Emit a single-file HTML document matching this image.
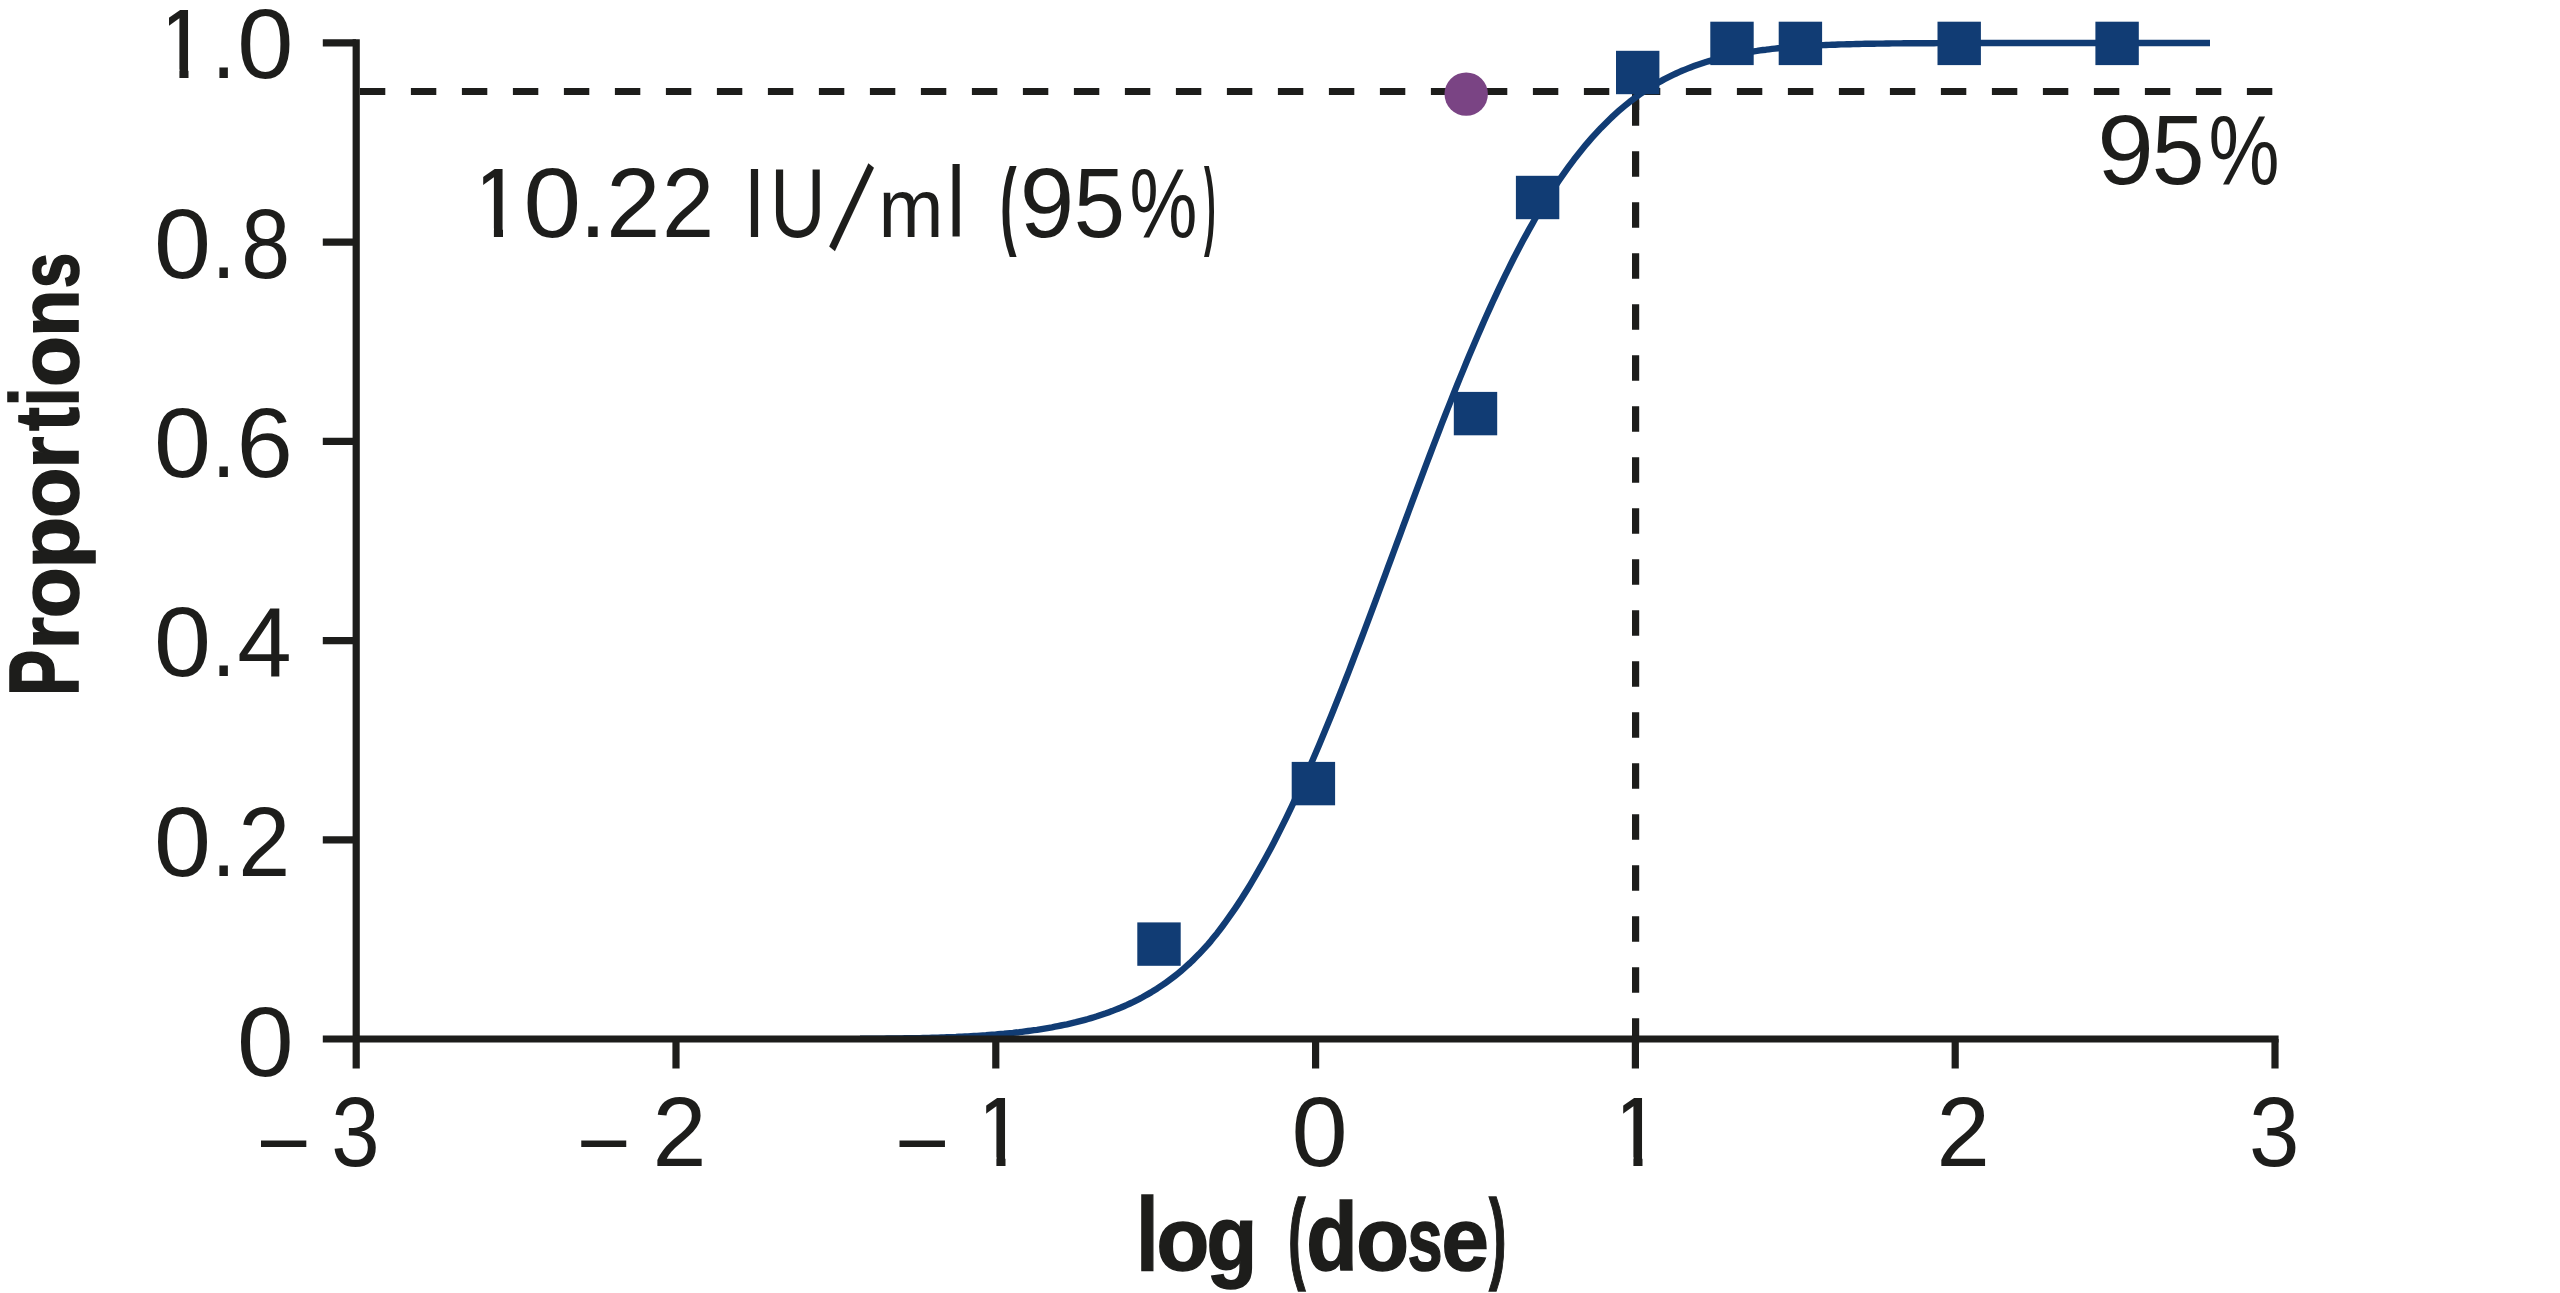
<!DOCTYPE html>
<html lang="en"><head><meta charset="utf-8"><title>Probit analysis</title>
<style>
html,body{margin:0;padding:0;background:#fff;}
body{width:2560px;height:1293px;overflow:hidden;}
svg{display:block;}
text{font-family:"Liberation Sans",sans-serif;fill:#1d1d1b;white-space:pre;}
</style></head>
<body>
<svg width="2560" height="1293" viewBox="0 0 2560 1293">
<defs>
<clipPath id="c10"><rect x="179.4" y="0.0" width="9.1" height="1293.0"/><rect x="169.0" y="0.0" width="19.5" height="69.4"/><rect x="205.0" y="0.0" width="125.0" height="1293.0"/></clipPath>
<clipPath id="cm1"><rect x="996.4" y="0.0" width="9.1" height="1293.0"/><rect x="986.2" y="0.0" width="19.2" height="1157.2"/><rect x="880.0" y="0.0" width="80.0" height="1293.0"/></clipPath>
<clipPath id="cx1"><rect x="1633.4" y="0.0" width="9.1" height="1293.0"/><rect x="1623.2" y="0.0" width="19.2" height="1157.2"/></clipPath>
<clipPath id="ca"><rect x="493.9" y="0.0" width="9.1" height="1293.0"/><rect x="483.2" y="0.0" width="19.8" height="228.4"/><rect x="521.0" y="0.0" width="779.0" height="1293.0"/></clipPath>
</defs>
<rect width="2560" height="1293" fill="#fff"/>
<g stroke="#1d1d1b" stroke-width="7" fill="none" stroke-linecap="butt">
<line x1="359.9" y1="91.4" x2="2273" y2="91.4" stroke-dasharray="25.4 25.6"/>
<line x1="1635.6" y1="1043.65" x2="1635.6" y2="94" stroke-dasharray="25.4 25.6" stroke-width="7.2"/>
<line x1="1635.6" y1="94" x2="1635.6" y2="110" stroke-width="7.2"/>
</g>
<path d="M860.0,1038.7 L863.0,1038.7 L866.0,1038.7 L869.0,1038.7 L872.0,1038.6 L875.0,1038.6 L878.0,1038.6 L881.0,1038.6 L884.0,1038.6 L887.0,1038.5 L890.0,1038.5 L893.0,1038.5 L896.0,1038.4 L899.0,1038.4 L902.0,1038.4 L905.0,1038.3 L908.0,1038.3 L911.0,1038.2 L914.0,1038.2 L917.0,1038.1 L920.0,1038.1 L923.0,1038.0 L926.0,1037.9 L929.0,1037.9 L932.0,1037.8 L935.0,1037.7 L938.0,1037.6 L941.0,1037.5 L944.0,1037.4 L947.0,1037.3 L950.0,1037.2 L953.0,1037.1 L956.0,1037.0 L959.0,1036.8 L962.0,1036.7 L965.0,1036.5 L968.0,1036.4 L971.0,1036.2 L974.0,1036.0 L977.0,1035.9 L980.0,1035.7 L983.0,1035.5 L986.0,1035.3 L989.0,1035.0 L992.0,1034.8 L995.0,1034.6 L998.0,1034.3 L1001.0,1034.0 L1004.0,1033.8 L1007.0,1033.5 L1010.0,1033.2 L1013.0,1032.9 L1016.0,1032.5 L1019.0,1032.2 L1022.0,1031.8 L1025.0,1031.4 L1028.0,1031.0 L1031.0,1030.6 L1034.0,1030.2 L1037.0,1029.8 L1040.0,1029.3 L1043.0,1028.8 L1046.0,1028.3 L1049.0,1027.8 L1052.0,1027.3 L1055.0,1026.7 L1058.0,1026.1 L1061.0,1025.5 L1064.0,1024.9 L1067.0,1024.3 L1070.0,1023.6 L1073.0,1022.9 L1076.0,1022.2 L1079.0,1021.4 L1082.0,1020.6 L1085.0,1019.8 L1088.0,1019.0 L1091.0,1018.1 L1094.0,1017.2 L1097.0,1016.3 L1100.0,1015.3 L1103.0,1014.3 L1106.0,1013.3 L1109.0,1012.2 L1112.0,1011.1 L1115.0,1009.9 L1118.0,1008.7 L1121.0,1007.5 L1124.0,1006.2 L1127.0,1004.9 L1130.0,1003.5 L1133.0,1002.1 L1136.0,1000.6 L1139.0,999.1 L1142.0,997.5 L1145.0,995.8 L1148.0,994.1 L1151.0,992.4 L1154.0,990.5 L1157.0,988.7 L1160.0,986.7 L1163.0,984.7 L1166.0,982.6 L1169.0,980.4 L1172.0,978.2 L1175.0,975.9 L1178.0,973.5 L1181.0,971.0 L1184.0,968.4 L1187.0,965.7 L1190.0,963.0 L1193.0,960.1 L1196.0,957.1 L1199.0,954.1 L1202.0,950.9 L1205.0,947.6 L1208.0,944.3 L1211.0,940.8 L1214.0,937.1 L1217.0,933.4 L1220.0,929.5 L1223.0,925.5 L1226.0,921.4 L1229.0,917.2 L1232.0,912.9 L1235.0,908.6 L1238.0,904.1 L1241.0,899.5 L1244.0,894.8 L1247.0,890.0 L1250.0,885.1 L1253.0,880.0 L1256.0,874.9 L1259.0,869.7 L1262.0,864.4 L1265.0,859.0 L1268.0,853.5 L1271.0,847.9 L1274.0,842.2 L1277.0,836.3 L1280.0,830.4 L1283.0,824.4 L1286.0,818.3 L1289.0,812.1 L1292.0,805.8 L1295.0,799.4 L1298.0,792.9 L1301.0,786.4 L1304.0,779.7 L1307.0,773.0 L1310.0,766.2 L1313.0,759.3 L1316.0,752.3 L1319.0,745.2 L1322.0,738.1 L1325.0,730.8 L1328.0,723.6 L1331.0,716.2 L1334.0,708.8 L1337.0,701.3 L1340.0,693.8 L1343.0,686.2 L1346.0,678.5 L1349.0,670.8 L1352.0,663.0 L1355.0,655.2 L1358.0,647.4 L1361.0,639.5 L1364.0,631.6 L1367.0,623.6 L1370.0,615.6 L1373.0,607.6 L1376.0,599.6 L1379.0,591.5 L1382.0,583.4 L1385.0,575.3 L1388.0,567.2 L1391.0,559.1 L1394.0,551.0 L1397.0,542.9 L1400.0,534.8 L1403.0,526.7 L1406.0,518.6 L1409.0,510.5 L1412.0,502.4 L1415.0,494.3 L1418.0,486.3 L1421.0,478.3 L1424.0,470.3 L1427.0,462.4 L1430.0,454.5 L1433.0,446.6 L1436.0,438.8 L1439.0,431.0 L1442.0,423.2 L1445.0,415.5 L1448.0,407.9 L1451.0,400.3 L1454.0,392.8 L1457.0,385.3 L1460.0,377.9 L1463.0,370.6 L1466.0,363.3 L1469.0,356.1 L1472.0,349.0 L1475.0,341.9 L1478.0,335.0 L1481.0,328.1 L1484.0,321.3 L1487.0,314.5 L1490.0,307.9 L1493.0,301.3 L1496.0,294.8 L1499.0,288.4 L1502.0,282.1 L1505.0,275.9 L1508.0,269.8 L1511.0,263.8 L1514.0,257.8 L1517.0,252.0 L1520.0,246.3 L1523.0,240.6 L1526.0,235.1 L1529.0,229.6 L1532.0,224.3 L1535.0,219.0 L1538.0,213.9 L1541.0,208.8 L1544.0,203.8 L1547.0,199.0 L1550.0,194.2 L1553.0,189.6 L1556.0,185.0 L1559.0,180.5 L1562.0,176.2 L1565.0,171.9 L1568.0,167.7 L1571.0,163.6 L1574.0,159.6 L1577.0,155.8 L1580.0,152.0 L1583.0,148.3 L1586.0,144.6 L1589.0,141.1 L1592.0,137.7 L1595.0,134.4 L1598.0,131.1 L1601.0,127.9 L1604.0,124.9 L1607.0,121.9 L1610.0,119.0 L1613.0,116.1 L1616.0,113.4 L1619.0,110.7 L1622.0,108.1 L1625.0,105.6 L1628.0,103.2 L1631.0,100.8 L1634.0,98.6 L1637.0,96.3 L1640.0,94.2 L1643.0,92.1 L1646.0,90.1 L1649.0,88.2 L1652.0,86.3 L1655.0,84.5 L1658.0,82.8 L1661.0,81.1 L1664.0,79.4 L1667.0,77.9 L1670.0,76.4 L1673.0,74.9 L1676.0,73.5 L1679.0,72.1 L1682.0,70.8 L1685.0,69.6 L1688.0,68.4 L1691.0,67.2 L1694.0,66.1 L1697.0,65.0 L1700.0,64.0 L1703.0,63.0 L1706.0,62.0 L1709.0,61.1 L1712.0,60.2 L1715.0,59.4 L1718.0,58.6 L1721.0,57.8 L1724.0,57.1 L1727.0,56.4 L1730.0,55.7 L1733.0,55.1 L1736.0,54.5 L1739.0,53.9 L1742.0,53.3 L1745.0,52.8 L1748.0,52.3 L1751.0,51.8 L1754.0,51.3 L1757.0,50.9 L1760.0,50.4 L1763.0,50.0 L1766.0,49.7 L1769.0,49.3 L1772.0,48.9 L1775.0,48.6 L1778.0,48.3 L1781.0,48.0 L1784.0,47.7 L1787.0,47.4 L1790.0,47.2 L1793.0,47.0 L1796.0,46.7 L1799.0,46.5 L1802.0,46.3 L1805.0,46.1 L1808.0,45.9 L1811.0,45.7 L1814.0,45.6 L1817.0,45.4 L1820.0,45.3 L1823.0,45.1 L1826.0,45.0 L1829.0,44.9 L1832.0,44.8 L1835.0,44.7 L1838.0,44.5 L1841.0,44.4 L1844.0,44.4 L1847.0,44.3 L1850.0,44.2 L1853.0,44.1 L1856.0,44.0 L1859.0,44.0 L1862.0,43.9 L1865.0,43.8 L1868.0,43.8 L1871.0,43.7 L1874.0,43.7 L1877.0,43.6 L1880.0,43.6 L1883.0,43.6 L1886.0,43.5 L1889.0,43.5 L1892.0,43.4 L1895.0,43.4 L1898.0,43.4 L1901.0,43.4 L1904.0,43.3 L1907.0,43.3 L1910.0,43.3 L1913.0,43.3 L1916.0,43.2 L1919.0,43.2 L1922.0,43.2 L1925.0,43.2 L1928.0,43.2 L1931.0,43.2 L1934.0,43.2 L1937.0,43.1 L1940.0,43.1 L1943.0,43.1 L1946.0,43.1 L1949.0,43.1 L1952.0,43.1 L1955.0,43.1 L1958.0,43.1 L1961.0,43.1 L1964.0,43.1 L1967.0,43.1 L1970.0,43.1 L1973.0,43.1 L1976.0,43.0 L1979.0,43.0 L1982.0,43.0 L1985.0,43.0 L1988.0,43.0 L1991.0,43.0 L1994.0,43.0 L1997.0,43.0 L2000.0,43.0 L2003.0,43.0 L2006.0,43.0 L2009.0,43.0 L2012.0,43.0 L2015.0,43.0 L2018.0,43.0 L2021.0,43.0 L2024.0,43.0 L2027.0,43.0 L2030.0,43.0 L2033.0,43.0 L2036.0,43.0 L2039.0,43.0 L2042.0,43.0 L2045.0,43.0 L2048.0,43.0 L2051.0,43.0 L2054.0,43.0 L2057.0,43.0 L2060.0,43.0 L2063.0,43.0 L2066.0,43.0 L2069.0,43.0 L2072.0,43.0 L2075.0,43.0 L2078.0,43.0 L2081.0,43.0 L2084.0,43.0 L2087.0,43.0 L2090.0,43.0 L2093.0,43.0 L2096.0,43.0 L2099.0,43.0 L2102.0,43.0 L2105.0,43.0 L2108.0,43.0 L2111.0,43.0 L2114.0,43.0 L2117.0,43.0 L2120.0,43.0 L2123.0,43.0 L2126.0,43.0 L2129.0,43.0 L2132.0,43.0 L2135.0,43.0 L2138.0,43.0 L2141.0,43.0 L2144.0,43.0 L2147.0,43.0 L2150.0,43.0 L2153.0,43.0 L2156.0,43.0 L2159.0,43.0 L2162.0,43.0 L2165.0,43.0 L2168.0,43.0 L2171.0,43.0 L2174.0,43.0 L2177.0,43.0 L2180.0,43.0 L2183.0,43.0 L2186.0,43.0 L2189.0,43.0 L2192.0,43.0 L2195.0,43.0 L2198.0,43.0 L2201.0,43.0 L2204.0,43.0 L2207.0,43.0 L2210.0,43.0 L2210.0,43.0" fill="none" stroke="#113c74" stroke-width="6.4" stroke-linejoin="round"/>
<g stroke="#1d1d1b" stroke-width="7.2" fill="none" stroke-linecap="butt">
<line x1="356.2" y1="39.3" x2="356.2" y2="1068.5"/>
<line x1="322.8" y1="1039" x2="2278.6" y2="1039"/>
<line x1="322.8" y1="42.9" x2="356" y2="42.9"/><line x1="322.8" y1="242.1" x2="356" y2="242.1"/><line x1="322.8" y1="441.3" x2="356" y2="441.3"/><line x1="322.8" y1="640.6" x2="356" y2="640.6"/><line x1="322.8" y1="839.8" x2="356" y2="839.8"/>
<line x1="676.0" y1="1039" x2="676.0" y2="1068.5"/><line x1="995.8" y1="1039" x2="995.8" y2="1068.5"/><line x1="1315.6" y1="1039" x2="1315.6" y2="1068.5"/><line x1="1635.4" y1="1039" x2="1635.4" y2="1068.5"/><line x1="1955.2" y1="1039" x2="1955.2" y2="1068.5"/><line x1="2275.0" y1="1039" x2="2275.0" y2="1068.5"/>
</g>
<g fill="#113c74"><rect x="1137.3" y="922.4" width="43.4" height="43.4"/><rect x="1291.7" y="761.9" width="43.4" height="43.4"/><rect x="1453.8" y="391.9" width="43.4" height="43.4"/><rect x="1515.9" y="175.8" width="43.4" height="43.4"/><rect x="1616.0" y="50.8" width="43.4" height="43.4"/><rect x="1710.3" y="21.7" width="43.4" height="43.4"/><rect x="1778.7" y="21.7" width="43.4" height="43.4"/><rect x="1937.5" y="21.7" width="43.4" height="43.4"/><rect x="2095.4" y="21.7" width="43.4" height="43.4"/></g>
<circle cx="1466.2" cy="94.1" r="21.7" fill="#7a4484"/>
<g font-size="98">
<text y="78.25" clip-path="url(#c10)"><tspan x="154.70" font-size="98">1</tspan><tspan x="211.35" font-size="98" textLength="24.80" lengthAdjust="spacingAndGlyphs">.</tspan><tspan x="237.31" font-size="98" textLength="56.14" lengthAdjust="spacingAndGlyphs">0</tspan></text>
<text y="278.20"><tspan x="154.00" font-size="98" textLength="57.01" lengthAdjust="spacingAndGlyphs">0</tspan><tspan x="211.35" font-size="98" textLength="24.80" lengthAdjust="spacingAndGlyphs">.</tspan><tspan x="241.18" font-size="98" textLength="48.89" lengthAdjust="spacingAndGlyphs">8</tspan></text>
<text y="477.20"><tspan x="154.00" font-size="98" textLength="57.01" lengthAdjust="spacingAndGlyphs">0</tspan><tspan x="211.35" font-size="98" textLength="24.80" lengthAdjust="spacingAndGlyphs">.</tspan><tspan x="236.45" font-size="98" textLength="56.41" lengthAdjust="spacingAndGlyphs">6</tspan></text>
<text y="675.90"><tspan x="154.00" font-size="98" textLength="57.01" lengthAdjust="spacingAndGlyphs">0</tspan><tspan x="211.35" font-size="98" textLength="24.80" lengthAdjust="spacingAndGlyphs">.</tspan><tspan x="237.15" font-size="98" textLength="54.41" lengthAdjust="spacingAndGlyphs">4</tspan></text>
<text y="876.40"><tspan x="154.00" font-size="98" textLength="57.01" lengthAdjust="spacingAndGlyphs">0</tspan><tspan x="211.35" font-size="98" textLength="24.80" lengthAdjust="spacingAndGlyphs">.</tspan><tspan x="238.30" font-size="98" textLength="52.01" lengthAdjust="spacingAndGlyphs">2</tspan></text>
<text y="1075.50"><tspan x="237.02" font-size="98" textLength="56.66" lengthAdjust="spacingAndGlyphs">0</tspan></text>
<text y="1166.00"><tspan x="260.90" y="1168.6" font-size="98" textLength="45.34" lengthAdjust="spacingAndGlyphs">–</tspan> <tspan x="331.29" y="1166" font-size="98" textLength="48.33" lengthAdjust="spacingAndGlyphs">3</tspan></text>
<text y="1166.00"><tspan x="581.25" y="1168.6" font-size="98" textLength="45.04" lengthAdjust="spacingAndGlyphs">–</tspan> <tspan x="652.61" y="1166" font-size="98" textLength="54.02" lengthAdjust="spacingAndGlyphs">2</tspan></text>
<text y="1166.00" clip-path="url(#cm1)"><tspan x="899.50" y="1168.6" font-size="98" textLength="45.54" lengthAdjust="spacingAndGlyphs">–</tspan> <tspan y="1166" x="971.70" font-size="98">1</tspan></text>
<text y="1166.00"><tspan x="1291.56" font-size="98" textLength="56.14" lengthAdjust="spacingAndGlyphs">0</tspan></text>
<text y="1166.00" clip-path="url(#cx1)"><tspan x="1608.70" font-size="98">1</tspan></text>
<text y="1166.00"><tspan x="1936.42" font-size="98" textLength="53.41" lengthAdjust="spacingAndGlyphs">2</tspan></text>
<text y="1166.00"><tspan x="2249.05" font-size="98" textLength="50.44" lengthAdjust="spacingAndGlyphs">3</tspan></text>
<text y="237.20" clip-path="url(#ca)"><tspan x="469.20" font-size="98">1</tspan><tspan x="523.46" font-size="98" textLength="57.59" lengthAdjust="spacingAndGlyphs">0</tspan><tspan x="579.39" font-size="98" textLength="27.43" lengthAdjust="spacingAndGlyphs">.</tspan><tspan x="606.35" font-size="98" textLength="54.14" lengthAdjust="spacingAndGlyphs">2</tspan><tspan x="661.88" font-size="98" textLength="52.25" lengthAdjust="spacingAndGlyphs">2</tspan> <tspan x="743.78" font-size="98" textLength="21.45" lengthAdjust="spacingAndGlyphs">I</tspan><tspan x="769.95" font-size="98" textLength="55.70" lengthAdjust="spacingAndGlyphs">U</tspan><tspan x="829.6" y="245.3" font-size="143" rotate="24.7" textLength="22.25" lengthAdjust="spacingAndGlyphs">/</tspan><tspan x="878.57" y="237.2" font-size="84" textLength="64.97" lengthAdjust="spacingAndGlyphs">m</tspan><tspan x="946.98" font-size="101" textLength="18.20" lengthAdjust="spacingAndGlyphs">l</tspan> <tspan font-weight="bold" x="1000.01" font-size="98" textLength="16.64" lengthAdjust="spacingAndGlyphs">(</tspan><tspan x="1019.80" font-size="98" textLength="54.54" lengthAdjust="spacingAndGlyphs">9</tspan><tspan x="1073.81" font-size="98" textLength="51.32" lengthAdjust="spacingAndGlyphs">5</tspan><tspan x="1129.48" font-size="98" textLength="67.95" lengthAdjust="spacingAndGlyphs">%</tspan><tspan font-weight="bold" x="1203.97" font-size="98" textLength="11.80" lengthAdjust="spacingAndGlyphs">)</tspan></text>
<text y="184.00"><tspan x="2097.23" font-size="98" textLength="56.59" lengthAdjust="spacingAndGlyphs">9</tspan><tspan x="2151.80" font-size="98" textLength="52.79" lengthAdjust="spacingAndGlyphs">5</tspan><tspan x="2208.40" font-size="98" textLength="71.05" lengthAdjust="spacingAndGlyphs">%</tspan></text>
<text y="1269.60" font-weight="bold" stroke="#1d1d1b" stroke-width="1.6"><tspan x="1136.20" font-size="103" textLength="22.27" lengthAdjust="spacingAndGlyphs">l</tspan><tspan x="1156.43" font-size="89" textLength="52.75" lengthAdjust="spacingAndGlyphs">o</tspan><tspan x="1206.50" font-size="91" textLength="50.65" lengthAdjust="spacingAndGlyphs">g</tspan> <tspan x="1287.99" font-size="100" textLength="17.46" lengthAdjust="spacingAndGlyphs">(</tspan><tspan x="1306.35" font-size="97" textLength="51.40" lengthAdjust="spacingAndGlyphs">d</tspan><tspan x="1356.13" font-size="89" textLength="52.75" lengthAdjust="spacingAndGlyphs">o</tspan><tspan x="1407.38" font-size="89" textLength="35.11" lengthAdjust="spacingAndGlyphs">s</tspan><tspan x="1441.48" font-size="89" textLength="47.33" lengthAdjust="spacingAndGlyphs">e</tspan><tspan x="1489.05" font-size="100" textLength="17.46" lengthAdjust="spacingAndGlyphs">)</tspan></text>
<text transform="translate(78.4,692.2) rotate(-90)" y="0" font-weight="bold" stroke="#1d1d1b" stroke-width="1.6"><tspan x="-3.85" font-size="97.5" textLength="46.32" lengthAdjust="spacingAndGlyphs">P</tspan><tspan x="42.70" font-size="84" textLength="32.46" lengthAdjust="spacingAndGlyphs">r</tspan><tspan x="74.04" font-size="84" textLength="51.03" lengthAdjust="spacingAndGlyphs">o</tspan><tspan x="123.71" font-size="84" textLength="51.76" lengthAdjust="spacingAndGlyphs">p</tspan><tspan x="174.08" font-size="84" textLength="50.34" lengthAdjust="spacingAndGlyphs">o</tspan><tspan x="223.44" font-size="84" textLength="32.21" lengthAdjust="spacingAndGlyphs">r</tspan><tspan x="261.12" font-size="90" textLength="23.96" lengthAdjust="spacingAndGlyphs">t</tspan><tspan x="285.67" font-size="96" textLength="19.24" lengthAdjust="spacingAndGlyphs">i</tspan><tspan x="305.24" font-size="84" textLength="50.91" lengthAdjust="spacingAndGlyphs">o</tspan><tspan x="355.39" font-size="84" textLength="47.31" lengthAdjust="spacingAndGlyphs">n</tspan><tspan x="403.95" font-size="84" textLength="35.57" lengthAdjust="spacingAndGlyphs">s</tspan></text>
</g>
</svg>
</body></html>
